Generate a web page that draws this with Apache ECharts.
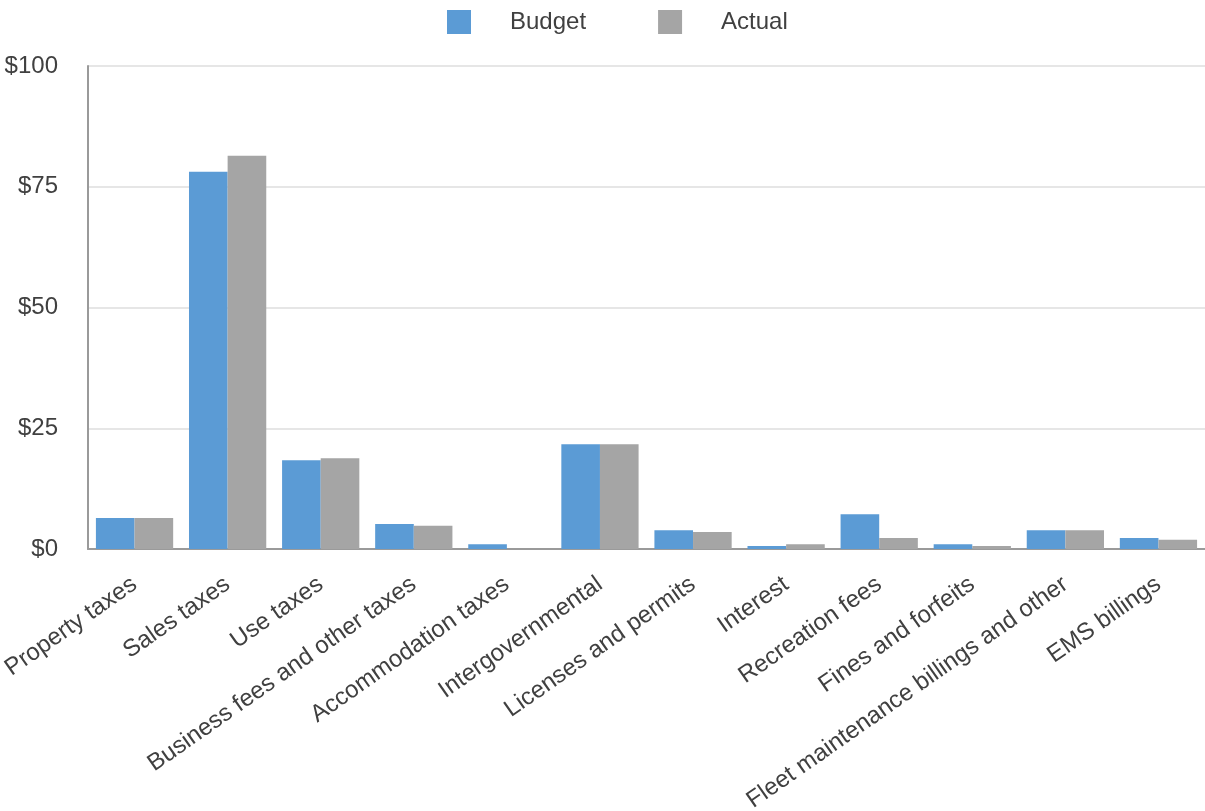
<!DOCTYPE html>
<html>
<head>
<meta charset="utf-8">
<script src="https://cdn.jsdelivr.net/npm/echarts@6/dist/echarts.min.js"></script>
<style>
  html, body { margin: 0; padding: 0; background: #ffffff; }
  #chart { width: 1205px; height: 811px; }
</style>
</head>
<body>
<div id="chart"></div>
<script>
// Revenue categories (millions of dollars)
const categories = [
  'Property taxes', 'Sales taxes', 'Use taxes', 'Business fees and other taxes',
  'Accommodation taxes', 'Intergovernmental', 'Licenses and permits', 'Interest',
  'Recreation fees', 'Fines and forfeits', 'Fleet maintenance billings and other', 'EMS billings'
];
const budget = [6.4, 78.1, 18.4, 5.2, 1.0, 21.7, 3.9, 0.6, 7.2, 1.0, 3.9, 2.3];
const actual = [6.4, 81.4, 18.8, 4.8, 0.0, 21.7, 3.5, 1.0, 2.3, 0.6, 3.9, 1.9];
const yTicks = [0, 25, 50, 75, 100];

const textColor = '#404040';
const font = 'Liberation Sans, Arial, sans-serif';

const chart = echarts.init(document.getElementById('chart'), null, { renderer: 'canvas' });
chart.setOption({
  animation: false,
  color: ['#5B9BD5', '#A5A5A5'],
  legend: {
    top: 5,
    left: 442,
    itemWidth: 24,
    itemHeight: 24,
    itemGap: 72,
    icon: 'rect',
    textStyle: { fontFamily: font, fontSize: 24, color: textColor, padding: [0, 0, 0, 34] },
    data: ['Budget', 'Actual']
  },
  grid: {
    left: 88, right: 0, top: 66, bottom: 262,
    containLabel: false,
    outerBoundsMode: 'none'
  },
  xAxis: {
    type: 'category',
    data: categories,
    axisLine: { show: true, lineStyle: { color: '#9a9a9a', width: 2 } },
    axisTick: { show: false },
    axisLabel: {
      interval: 0,
      rotate: 35,
      margin: 33,
      fontFamily: font,
      fontSize: 24,
      color: textColor
    }
  },
  yAxis: {
    type: 'value',
    min: yTicks[0],
    max: yTicks[yTicks.length - 1],
    interval: 25,
    axisLine: { show: true, lineStyle: { color: '#9a9a9a', width: 2 } },
    axisTick: { show: false },
    splitLine: { show: true, lineStyle: { color: '#e6e6e6', width: 2 } },
    axisLabel: {
      margin: 30,
      fontFamily: font,
      fontSize: 24,
      color: textColor,
      formatter: v => '$' + v
    }
  },
  series: [
    { name: 'Budget', type: 'bar', data: budget, barGap: '0%', barCategoryGap: '17%' },
    { name: 'Actual', type: 'bar', data: actual, barGap: '0%', barCategoryGap: '17%' }
  ]
});
</script>
</body>
</html>
